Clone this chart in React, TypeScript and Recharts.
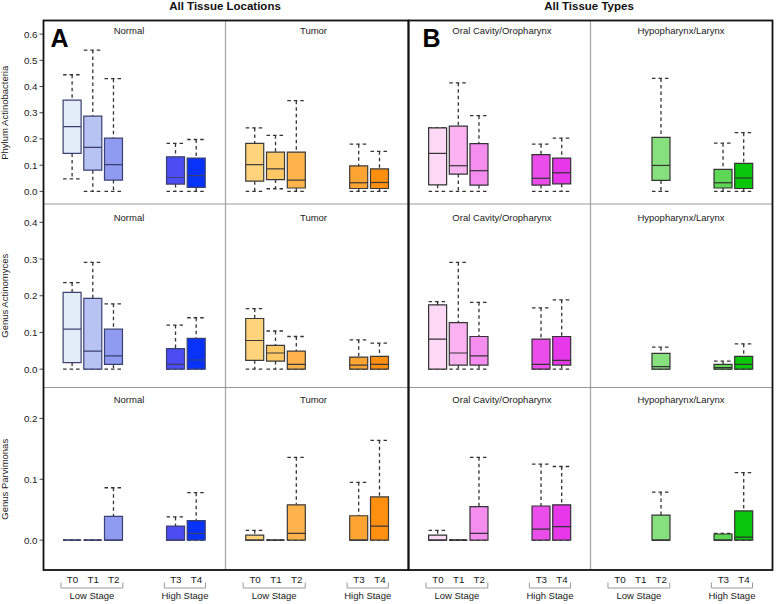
import React from 'react';
import { BarChart, Bar, XAxis, YAxis, Cell } from 'recharts';

type Stat = [number, number, number, number, number] | null;

const stages = ['T0', 'T1', 'T2', 'T3', 'T4'];
const stagePos = [0, 1, 2, 5, 6];
const stageGroups = ['Low Stage', 'High Stage'];
const groupTitles = ['Normal', 'Tumor', 'Oral Cavity/Oropharynx', 'Hypopharynx/Larynx'];
const sectionTitles = ['All Tissue Locations', 'All Tissue Types'];
const taxa = ['Phylum Actinobacteria', 'Genus Actinomyces', 'Genus Parvimonas'];

// [min, q1, median, q3, max] per stage (T0..T4), null = no samples
const actinobacteriaNormal: Stat[] = [
  [0.048, 0.145, 0.247, 0.348, 0.445],
  [0, 0.081, 0.168, 0.287, 0.539],
  [0, 0.043, 0.102, 0.203, 0.43],
  [0, 0.028, 0.053, 0.132, 0.183],
  [0, 0.015, 0.06, 0.127, 0.198],
];
const actinobacteriaTumor: Stat[] = [
  [0, 0.039, 0.102, 0.183, 0.242],
  [0.01, 0.045, 0.086, 0.15, 0.214],
  [0, 0.013, 0.043, 0.15, 0.346],
  [0, 0.011, 0.033, 0.097, 0.18],
  [0, 0.011, 0.034, 0.086, 0.153],
];
const actinobacteriaOral: Stat[] = [
  [0, 0.025, 0.145, 0.242, 0.242],
  [0, 0.066, 0.098, 0.249, 0.414],
  [0, 0.024, 0.079, 0.182, 0.289],
  [0, 0.024, 0.05, 0.14, 0.18],
  [0, 0.029, 0.071, 0.127, 0.203],
];
const actinobacteriaHypo: Stat[] = [
  null,
  null,
  [0, 0.042, 0.099, 0.206, 0.431],
  [0, 0.013, 0.033, 0.084, 0.184],
  [0, 0.011, 0.051, 0.107, 0.224],
];

const actinomycesNormal: Stat[] = [
  [0, 0.018, 0.109, 0.209, 0.236],
  [0, 0, 0.049, 0.193, 0.291],
  [0, 0.013, 0.036, 0.109, 0.178],
  [0, 0, 0.013, 0.056, 0.12],
  [0, 0, 0.025, 0.084, 0.14],
];
const actinomycesTumor: Stat[] = [
  [0, 0.024, 0.078, 0.138, 0.165],
  [0, 0.022, 0.044, 0.065, 0.104],
  [0, 0, 0.013, 0.049, 0.089],
  [0, 0, 0.011, 0.033, 0.08],
  [0, 0, 0.013, 0.035, 0.071],
];
const actinomycesOral: Stat[] = [
  [0, 0, 0.082, 0.175, 0.184],
  [0, 0.011, 0.044, 0.127, 0.291],
  [0, 0.011, 0.036, 0.089, 0.182],
  [0, 0, 0.013, 0.082, 0.167],
  [0, 0.011, 0.024, 0.089, 0.189],
];
const actinomycesHypo: Stat[] = [
  null,
  null,
  [0, 0, 0.007, 0.043, 0.06],
  [0, 0, 0.004, 0.013, 0.022],
  [0, 0, 0.013, 0.035, 0.069],
];

const parvimonasNormal: Stat[] = [
  [0, 0, 0, 0, 0],
  [0, 0, 0, 0, 0],
  [0, 0, 0, 0.039, 0.086],
  [0, 0, 0, 0.023, 0.038],
  [0, 0, 0.011, 0.032, 0.078],
];
const parvimonasTumor: Stat[] = [
  [0, 0, 0, 0.008, 0.016],
  [0, 0, 0, 0, 0],
  [0, 0, 0.011, 0.058, 0.136],
  [0, 0, 0, 0.04, 0.095],
  [0, 0, 0.023, 0.071, 0.164],
];
const parvimonasOral: Stat[] = [
  [0, 0, 0, 0.008, 0.016],
  [0, 0, 0, 0, 0],
  [0, 0, 0.011, 0.055, 0.136],
  [0, 0, 0.018, 0.056, 0.125],
  [0, 0, 0.022, 0.058, 0.121],
];
const parvimonasHypo: Stat[] = [
  null,
  null,
  [0, 0, 0, 0.041, 0.079],
  [0, 0, 0, 0.01, 0.011],
  [0, 0, 0.005, 0.048, 0.111],
];

const rowStats = [
  [actinobacteriaNormal, actinobacteriaTumor, actinobacteriaOral, actinobacteriaHypo],
  [actinomycesNormal, actinomycesTumor, actinomycesOral, actinomycesHypo],
  [parvimonasNormal, parvimonasTumor, parvimonasOral, parvimonasHypo],
];
const yTicks = [
  [0, 0.1, 0.2, 0.3, 0.4, 0.5, 0.6],
  [0, 0.1, 0.2, 0.3, 0.4],
  [0, 0.1, 0.2],
];
const yTop = [0.65, 0.45, 0.25];

const normalColors = ['#e3ecf9', '#b7c3f3', '#8e9bf0', '#4b4cf2', '#0733f9'];
const tumorColors = ['#fed37c', '#fec865', '#feb44b', '#fea433', '#ff8f0f'];
const oralColors = ['#fdd9f6', '#fbb2f1', '#f58df1', '#eb4deb', '#e638ea'];
const hypoColors = ['#bff0b8', '#a6e8a0', '#86e07d', '#5ed656', '#0bc70b'];
const palettes = [normalColors, tumorColors, oralColors, hypoColors];
const boxStrokes = ['#3b4070', '#3a3a3a', '#333333', '#333333'];

// layout
const colX = [43.5, 225.5, 408.5, 590.5, 772.5];
const rowY = [20.5, 204, 387.5, 570];
const X_DOMAIN: [number, number] = [-1.4, 7.4];
const FONT = '"Liberation Sans", Arial, sans-serif';

const BoxShape = (props: any) => {
  const { x, y, width, height, payload, fill, stroke } = props;
  const { min, q1, med, q3, max } = payload;
  const span = max - min;
  const py = (v: number) => (span > 0 ? y + (height * (max - v)) / span : y);
  const cx = x + width / 2;
  const yMax = py(max);
  const yMin = py(min);
  const yQ3 = py(q3);
  const yQ1 = py(q1);
  const yMed = py(med);
  const dash = { stroke: '#333', strokeWidth: 1.3, strokeDasharray: '3.5 3' };
  return (
    <g>
      <line x1={cx} x2={cx} y1={yMax} y2={yQ3} {...dash} />
      <line x1={cx} x2={cx} y1={yQ1} y2={yMin} {...dash} />
      <line x1={x} x2={x + width} y1={yMax} y2={yMax} {...dash} />
      <line x1={x} x2={x + width} y1={yMin} y2={yMin} {...dash} />
      <path d={`M${x},${yQ3}H${x + width}V${yQ1}H${x}Z`} fill={fill} stroke={stroke} strokeWidth={1.2} />
      <line x1={x} x2={x + width} y1={yMed} y2={yMed} stroke={stroke} strokeWidth={1.2} />
    </g>
  );
};

const Panel = ({ r, c }: { r: number; c: number }) => {
  const plotW = colX[c + 1] - colX[c];
  const axisW = c === 0 ? colX[0] : c === 3 ? 5 : 0;
  const left = c === 0 ? 0 : colX[c];
  const width = plotW + axisW;
  const xAxisH = r === 2 ? 30 : 0;
  const height = rowY[r + 1] - rowY[r] + xAxisH;
  const data = rowStats[r][c]
    .map((s, i) =>
      s ? { si: i, pos: stagePos[i], min: s[0], q1: s[1], med: s[2], q3: s[3], max: s[4] } : null
    )
    .filter(Boolean) as any[];

  return (
    <div style={{ position: 'absolute', left, top: rowY[r], width, height }}>
      <BarChart width={width} height={height} data={data} margin={{ top: 0, right: 0, bottom: 0, left: 0 }}>
        <XAxis
          type="number"
          dataKey="pos"
          domain={X_DOMAIN}
          allowDataOverflow
          ticks={stagePos}
          interval={0}
          hide={r !== 2}
          height={30}
          axisLine={false}
          tickLine={false}
          tickSize={3}
          tickMargin={2.5}
          tickFormatter={(v: number) => stages[stagePos.indexOf(v)]}
          tick={{ fontSize: 9.8, fill: '#1a1a1a' }}
        />
        {c === 0 ? (
          <YAxis
            type="number"
            domain={[-0.05, yTop[r]]}
            allowDataOverflow
            ticks={yTicks[r]}
            width={colX[0]}
            axisLine={false}
            tickSize={4}
            tickMargin={2}
            tickLine={{ stroke: '#444' }}
            tickFormatter={(v: number) => v.toFixed(1)}
            tick={{ fontSize: 9.8, fill: '#222' }}
            label={{
              value: taxa[r],
              angle: -90,
              position: 'insideLeft',
              offset: 5,
              style: { textAnchor: 'middle', fontSize: 9.5, fill: '#222' },
            }}
          />
        ) : c === 3 ? (
          <YAxis
            type="number"
            orientation="right"
            domain={[-0.05, yTop[r]]}
            allowDataOverflow
            ticks={yTicks[r]}
            width={5}
            axisLine={false}
            tickSize={3}
            tickLine={{ stroke: '#666' }}
            tick={false}
          />
        ) : (
          <YAxis type="number" domain={[-0.05, yTop[r]]} allowDataOverflow hide />
        )}
        <Bar
          dataKey={(d: any) => [d.min, d.max]}
          barSize={18}
          shape={<BoxShape />}
          isAnimationActive={false}
        >
          {data.map((d, i) => (
            <Cell key={i} fill={palettes[c][d.si]} stroke={boxStrokes[c]} />
          ))}
        </Bar>
      </BarChart>
    </div>
  );
};

const xOf = (c: number, pos: number) =>
  colX[c] + ((pos - X_DOMAIN[0]) / (X_DOMAIN[1] - X_DOMAIN[0])) * (colX[c + 1] - colX[c]);

const titleX = [129, 313.5, 502, 681];
const titleBase = [34.3, 220.5, 403.3];

const Overlay = () => (
  <svg
    width={778}
    height={604}
    style={{ position: 'absolute', left: 0, top: 0, pointerEvents: 'none' }}
    fontFamily={FONT}
  >
    <text x={225} y={9.5} textAnchor="middle" fontSize={11.5} fontWeight="bold" fill="#111">
      {sectionTitles[0]}
    </text>
    <text x={589} y={9.5} textAnchor="middle" fontSize={11.5} fontWeight="bold" fill="#111">
      {sectionTitles[1]}
    </text>
    <text x={50.5} y={47} fontSize={25} fontWeight="bold" fill="#000">A</text>
    <text x={422.5} y={46.5} fontSize={25} fontWeight="bold" fill="#000">B</text>
    {rowY.slice(0, 3).map((_, r) =>
      groupTitles.map((t, c) => (
        <text key={`${r}-${c}`} x={titleX[c]} y={titleBase[r]} textAnchor="middle" fontSize={9.5} fill="#222">
          {t}
        </text>
      ))
    )}
    {/* inner separators */}
    <line x1={colX[1]} x2={colX[1]} y1={rowY[0]} y2={rowY[3]} stroke="#a8a8a8" strokeWidth={1.3} />
    <line x1={colX[3]} x2={colX[3]} y1={rowY[0]} y2={rowY[3]} stroke="#a8a8a8" strokeWidth={1.3} />
    <line x1={colX[0]} x2={colX[4]} y1={rowY[1]} y2={rowY[1]} stroke="#999" strokeWidth={1.2} />
    <line x1={colX[0]} x2={colX[4]} y1={rowY[2]} y2={rowY[2]} stroke="#999" strokeWidth={1.2} />
    {/* frames */}
    <rect x={colX[0]} y={rowY[0]} width={colX[2] - colX[0]} height={rowY[3] - rowY[0]} fill="none" stroke="#111" strokeWidth={1.8} />
    <rect x={colX[2]} y={rowY[0]} width={colX[4] - colX[2]} height={rowY[3] - rowY[0]} fill="none" stroke="#111" strokeWidth={1.8} />
    {/* stage brackets */}
    {[0, 1, 2, 3].map((c) =>
      [
        [0, 2],
        [5, 6],
      ].map(([a, b], g) => {
        const x1 = xOf(c, a) - 11.5;
        const x2 = xOf(c, b) + 9;
        return (
          <g key={`${c}-${g}`}>
            <path d={`M${x1},582.5V588H${x2}V582.5`} fill="none" stroke="#999" strokeWidth={1} />
            <text x={(x1 + x2) / 2} y={599.3} textAnchor="middle" fontSize={9.5} fill="#1a1a1a">
              {stageGroups[g]}
            </text>
          </g>
        );
      })
    )}
  </svg>
);

export default function App() {
  return (
    <div
      style={{
        position: 'absolute',
        left: 0,
        top: 0,
        width: 778,
        height: 604,
        background: '#fff',
        fontFamily: FONT,
        overflow: 'hidden',
      }}
    >
      {[0, 1, 2].map((r) => [0, 1, 2, 3].map((c) => <Panel key={`${r}-${c}`} r={r} c={c} />))}
      <Overlay />
    </div>
  );
}
